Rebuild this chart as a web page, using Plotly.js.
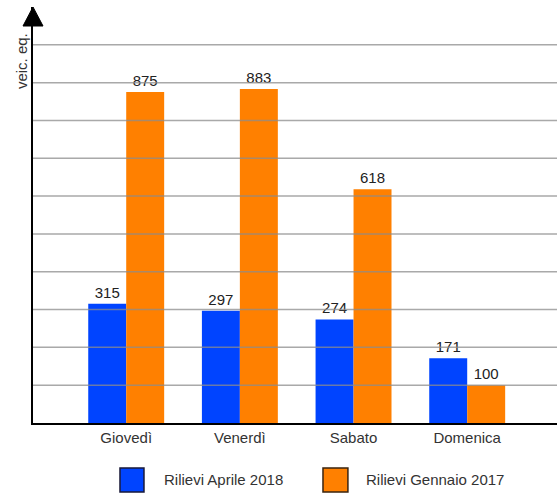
<!DOCTYPE html>
<html>
<head>
<meta charset="utf-8">
<script src="https://cdn.plot.ly/plotly-3.0.1.min.js"></script>
<style>html,body{margin:0;padding:0;background:#fff;}#chart{width:557px;height:495px;}</style>
</head>
<body>
<div id="chart"></div>
<script>
// ---- data ----
const categories = ["Giovedì", "Venerdì", "Sabato", "Domenica"];
const seriesNames = ["Rilievi Aprile 2018", "Rilievi Gennaio 2017"];
const aprile2018 = [315, 297, 274, 171];
const gennaio2017 = [875, 883, 618, 100];
const gridValues = [100, 200, 300, 400, 500, 600, 700, 800, 900, 1000];
const yAxisTitle = "veic. eq.";

// ---- styles ----
const colors = ["#0044FF", "#FF8000"];
const font = "Liberation Sans, Arial, sans-serif";
const fs = 15;

const traces = [aprile2018, gennaio2017].map((vals, i) => ({
  type: "bar",
  x: categories,
  y: vals,
  name: seriesNames[i],
  marker: { color: colors[i], line: { width: 0 } },
  text: vals.map(String),
  textposition: "outside",
  cliponaxis: false,
  textfont: { family: font, size: fs, color: "#222" },
  hoverinfo: "none"
}));

const shapes = gridValues.map(v => ({
  type: "line", xref: "paper", yref: "y",
  x0: 0, x1: 1, y0: v, y1: v,
  layer: "above",
  line: { color: "rgba(140,140,140,0.75)", width: 1.5 }
}));

// y-axis arrow head
shapes.push({
  type: "path", xref: "paper", yref: "paper",
  xsizemode: "pixel", ysizemode: "pixel",
  xanchor: 0, yanchor: 1,
  path: "M-10,-19 L10,-19 L0,0 Z",
  fillcolor: "#000", line: { color: "#000", width: 1 }, layer: "above"
});

// custom legend swatches
const legendX = [[0.166, 0.2118], [0.5534, 0.601]];
const legendTextX = [0.246, 0.6317];
const annotations = [];
seriesNames.forEach((name, i) => {
  shapes.push({
    type: "rect", xref: "paper", yref: "paper",
    x0: legendX[i][0], x1: legendX[i][1], y0: -0.166, y1: -0.108,
    fillcolor: colors[i], line: { color: i === 0 ? "#1a1a3a" : "#3a2410", width: 1.5 }
  });
  annotations.push({
    xref: "paper", yref: "paper", x: legendTextX[i], y: -0.137,
    xanchor: "left", yanchor: "middle", showarrow: false,
    text: name, font: { family: font, size: fs, color: "#333" }
  });
});

annotations.push({
  xref: "paper", yref: "paper", x: 0, y: 0.87, xshift: -12,
  xanchor: "center", yanchor: "middle", textangle: -90, showarrow: false,
  text: yAxisTitle, font: { family: font, size: fs, color: "#333" }
});

const layout = {
  width: 557, height: 495,
  margin: { l: 33, r: 0, t: 7, b: 72 },
  paper_bgcolor: "#fff", plot_bgcolor: "#fff",
  showlegend: false,
  barmode: "group",
  bargap: 0.332,
  bargroupgap: 0,
  font: { family: font, size: fs, color: "#333" },
  xaxis: {
    range: [-0.82, 3.79],
    showgrid: false, zeroline: false,
    showline: true, linecolor: "#000", linewidth: 2,
    ticks: "", tickfont: { family: font, size: fs, color: "#333" },
    fixedrange: true
  },
  yaxis: {
    range: [0, 1100],
    showgrid: false, zeroline: false,
    showline: true, linecolor: "#000", linewidth: 2,
    showticklabels: false, ticks: "",
    fixedrange: true
  },
  shapes: shapes,
  annotations: annotations
};

Plotly.newPlot("chart", traces, layout, { displayModeBar: false, staticPlot: true });
</script>
</body>
</html>
